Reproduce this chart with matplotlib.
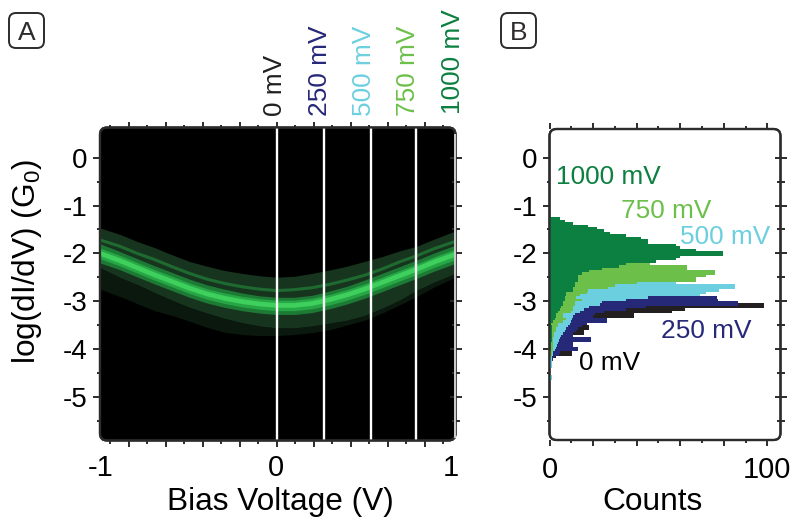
import numpy as np
import matplotlib
matplotlib.use("Agg")
import matplotlib.pyplot as plt
from matplotlib.patches import FancyBboxPatch
from matplotlib.transforms import IdentityTransform

plt.rcParams['font.family'] = ['Liberation Sans', 'DejaVu Sans']
plt.rcParams['mathtext.fontset'] = 'custom'
plt.rcParams['mathtext.rm'] = 'Liberation Sans'
plt.rcParams['mathtext.default'] = 'regular'
plt.rcParams['axes.unicode_minus'] = False

# ---- data ----
bias = [-1.011, -.9, -.8, -.7, -.6, -.5, -.4, -.3, -.2, -.1, 0, .1, .2, .3, .4, .5, .6, .7, .8, .9, 1.02]
ridge = [-2.0,-2.15,-2.3,-2.45,-2.59,-2.73,-2.85,-2.94,-3.01,-3.06,-3.09,-3.09,-3.05,-2.97,-2.87,-2.75,-2.61,-2.47,-2.33,-2.18,-2.02]
ghost = [-1.72,-1.85,-2.0,-2.13,-2.28,-2.42,-2.54,-2.63,-2.7,-2.75,-2.78,-2.76,-2.72,-2.65,-2.56,-2.46,-2.33,-2.18,-2.05,-1.9,-1.75]
core_top = [-1.89,-2.04,-2.19,-2.34,-2.48,-2.62,-2.74,-2.83,-2.9,-2.95,-2.98,-2.98,-2.94,-2.86,-2.76,-2.64,-2.5,-2.36,-2.22,-2.07,-1.91]
core_bot = [-2.11,-2.26,-2.41,-2.56,-2.7,-2.84,-2.96,-3.05,-3.12,-3.17,-3.2,-3.2,-3.16,-3.08,-2.98,-2.86,-2.72,-2.58,-2.44,-2.29,-2.13]
mid_top = [-1.8,-1.96,-2.11,-2.26,-2.4,-2.54,-2.66,-2.75,-2.83,-2.89,-2.92,-2.92,-2.88,-2.79,-2.69,-2.56,-2.42,-2.28,-2.14,-1.99,-1.83]
mid_bot = [-2.2,-2.34,-2.49,-2.64,-2.78,-2.92,-3.04,-3.13,-3.2,-3.25,-3.28,-3.28,-3.24,-3.16,-3.06,-2.94,-2.8,-2.66,-2.52,-2.37,-2.21]
outer_top = [-1.47,-1.6,-1.75,-1.88,-2.03,-2.17,-2.27,-2.36,-2.42,-2.47,-2.5,-2.48,-2.42,-2.35,-2.27,-2.17,-2.07,-1.95,-1.85,-1.7,-1.53]
outer_bot = [-2.3,-2.5,-2.65,-2.82,-2.98,-3.13,-3.25,-3.36,-3.45,-3.52,-3.56,-3.56,-3.52,-3.46,-3.4,-3.3,-3.15,-2.98,-2.77,-2.6,-2.42]
faint_bot = [-2.75,-2.9,-3.05,-3.2,-3.3,-3.42,-3.55,-3.65,-3.7,-3.72,-3.72,-3.7,-3.66,-3.6,-3.5,-3.4,-3.25,-3.08,-2.9,-2.7,-2.5]
cut_lines = [0, 0.27, 0.535, 0.795]

bin_width = 0.05
top_1000 = -1.25
top_750 = -2.20
top_500 = -2.60
top_250 = -2.90
top_0 = -3.05
counts_1000 = [4.6,7,10.7,17.6,22,25,27.6,35,42,45,45,58,60,67,79.4,79.4,60,58,49,35,32,24,18,15,13,13,13,11.5,11.5,10.7,10.7,7.7,7.4,7,7,6,6,5.4,4.6,3.8,3,3,2.3,1.5,0.8,1,1,1.2,1,1,1.2,1,0.8,0.6,0.8,0.6]
counts_750 = [46,63,63,76,76,72,67,67,40,30,27,17.6,17,14,12,15,11.5,11.5,10.7,10.7,10,6,6,7.5,6,3.8,3.8,3,3,2,2,1.5,1.5,1.5,1.5,1.5,1.5,1,1,0.8]
counts_500 = [58,85,85,78,72,69,45,35,24,23,18,16,14,11.5,10.7,10.4,10,9.2,8.4,7.7,7,6,5.5,5,4.5,3.8,3.4,3,2.3,1.8,1.5,1.2,1.2,1.2,1.2,1.2,0,0,0,1.2,1.2]
counts_250 = [76.7,77.4,86.7,86.7,44.5,35,25,20.7,20,26.4,26.4,17,15,13,12,10.7,10.7,19,19,11,11,13,13,5,4.5,2.3,1.5]
counts_0 = [98.6,98.6,62,56,39,39,23,23,12,18,18,16,16,8,8,8,6,6,6,5,10.4,10.4,3]

series_labels = ['0 mV', '250 mV', '500 mV', '750 mV', '1000 mV']
series_colors = ['#231f20', '#262878', '#6ccfe0', '#6cc04a', '#0c8040']
y_major = [0, -1, -2, -3, -4, -5]
count_tick_labels = {0: '0', 100: '100'}
# ------------------------------------

W, H = 797, 517
fig = plt.figure(figsize=(W/100, H/100), dpi=100, facecolor='white')
INK = '#2e2b2c'
YTICK = 20
XTICK = 21

def axes_px(l, t, r, b):
    return fig.add_axes([l/W, 1-b/H, (r-l)/W, (b-t)/H])

def frame(l, t, r, b, rad, fc='none', lw=1.6, z=5, ec=INK):
    p = FancyBboxPatch((l, H-b), r-l, b-t, boxstyle=f'round,pad=0,rounding_size={rad}',
                       transform=IdentityTransform(), fc=fc, ec=ec, lw=lw, zorder=z)
    fig.add_artist(p)

def style(ax):
    ax.patch.set_alpha(0)
    for s in ax.spines.values():
        s.set_visible(False)
    minor = [v - 0.5 for v in y_major]
    ax.set_yticks(y_major)
    ax.set_yticks(minor, minor=True)
    ax.tick_params(axis='y', which='major', direction='out', length=5, width=1.4, color=INK,
                   labelsize=YTICK, pad=4, left=True)
    ax.tick_params(axis='y', which='minor', direction='out', length=2.5, width=1.4, color=INK)
    ax.tick_params(axis='x', which='major', direction='out', length=4.5, width=1.4, color=INK,
                   labelsize=XTICK, pad=7, top=True)
    ax.tick_params(axis='x', which='minor', direction='out', length=2.5, width=1.4, color=INK, top=True)
    sec = ax.secondary_yaxis('right')
    sec.spines['right'].set_visible(False)
    sec.set_yticks(y_major)
    sec.set_yticks(minor, minor=True)
    sec.set_yticklabels([])
    sec.tick_params(axis='y', which='major', direction='inout', length=9, width=1.4, color=INK)
    sec.tick_params(axis='y', which='minor', direction='inout', length=6, width=1.4, color=INK)

# ---------- panel A ----------
frame(100, 127.5, 455.5, 440.5, 7, fc='black', z=-1)
a = axes_px(100, 127.5, 455.5, 440.5)
style(a)
a.set_xlim(-1.011, 1.02)
a.set_ylim(-5.916, 0.632)
spacing = 0.1057
a.set_xticks([k*spacing for k in range(-8, 9, 2)])
a.set_xticks([k*spacing for k in range(-9, 10, 2)], minor=True)
a.set_xticklabels([])
a.fill_between(bias, outer_bot, faint_bot, color='#0a180d', lw=0)
a.fill_between(bias, outer_top, outer_bot, color='#17351e', lw=0)
a.plot(bias, ghost, color='#1f6a30', lw=2.2, solid_capstyle='butt')
a.fill_between(bias, mid_top, mid_bot, color='#1d7a35', lw=0)
a.fill_between(bias, core_top, core_bot, color='#27a646', lw=0)
a.plot(bias, ridge, color='#3fcf5c', lw=3.4, solid_capstyle='butt')
for v in cut_lines:
    a.axvline(v, color='white', lw=1.7, zorder=3)
for v, s in [(-1, '-1'), (0, '0'), (1, '1')]:
    a.text(v - 0.006, -0.114, s, transform=a.get_xaxis_transform(), ha='center', va='baseline',
           fontsize=XTICK, color='black')
frame(100, 127.5, 455.5, 440.5, 7, z=5)
fig.add_artist(plt.Line2D([455.0, 455.0], [H-437, H-135], transform=IdentityTransform(),
                          color='#cfcfcf', lw=1.4, zorder=6))

top_x = [275, 320, 364, 408, 452.5]
top_bottom = [116, 116, 116, 116, 114]
for s, c, x, y in zip(series_labels, series_colors, top_x, top_bottom):
    fig.text(x/W, 1-y/H, s, rotation=90, ha='center', va='bottom', fontsize=18.9, color=c)

# ---------- panel B ----------
frame(549.5, 129, 780.5, 440, 7, fc='white', z=-1)
b = axes_px(549.5, 129, 780.5, 440)
style(b)
b.set_xlim(0, 106)
b.set_ylim((157.7-440)/47.8, (157.7-129)/47.8)
b.set_xticks(list(range(0, 101, 20)))
b.set_xticks(list(range(10, 100, 20)), minor=True)
b.set_xticklabels([count_tick_labels.get(v, '') for v in range(0, 101, 20)])

def hist(counts, top, color):
    c = np.array(counts, dtype=float)
    edges = top - bin_width*np.arange(len(c)+1)
    b.stairs(c[::-1], edges[::-1], orientation='horizontal', fill=True, color=color, lw=0)

hist(counts_0, top_0, series_colors[0])
hist(counts_250, top_250, series_colors[1])
hist(counts_500, top_500, series_colors[2])
hist(counts_750, top_750, series_colors[3])
hist(counts_1000, top_1000, series_colors[4])

for s, c, x, y in [(series_labels[4], series_colors[4], 2.9, -0.55),
                   (series_labels[3], series_colors[3], 33, -1.26),
                   (series_labels[2], series_colors[2], 60, -1.80),
                   (series_labels[1], series_colors[1], 51.2, -3.77),
                   (series_labels[0], 'black', 13.6, -4.44)]:
    b.text(x, y, s, color=c, fontsize=18.9, ha='left', va='baseline', zorder=4, clip_on=False)
frame(549.5, 129, 780.5, 440, 7, z=5)

# ---------- labels ----------
fig.text(280/W, 1-510/H, 'Bias Voltage (V)', ha='center', va='baseline', fontsize=22.8, color='black')
fig.text(652/W, 1-510/H, 'Counts', ha='center', va='baseline', fontsize=22.8, color='black')
fig.text(27/W, 1-262/H, 'log(dI/dV) (G$_{0}$)', rotation=90, ha='center', va='center', fontsize=22.8, color='black')

for l, t, s in [(9, 13, 'A'), (501, 13, 'B')]:
    frame(l, t, l+35, t+35, 7, lw=1.4, z=5)
    fig.text((l+17.5)/W, 1-(t+27)/H, s, ha='center', va='baseline', fontsize=19, color=INK)

fig.savefig('out.png', dpi=100, facecolor='white')
